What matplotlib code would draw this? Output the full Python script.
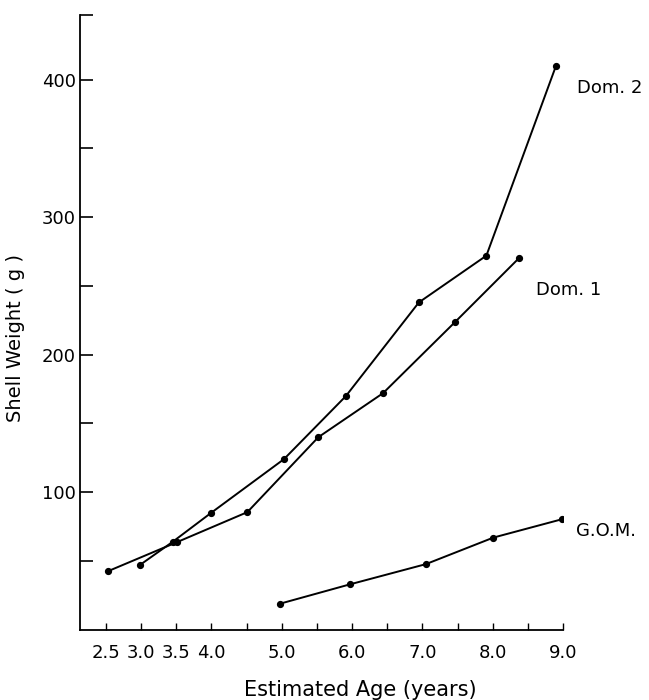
import matplotlib
matplotlib.use("Agg")
import matplotlib.pyplot as plt
from matplotlib.ticker import FixedLocator, FixedFormatter

# --- data ----------------------------------------------------------------
dom1_age = [2.53, 3.51, 4.51, 5.52, 6.44, 7.46, 8.37]
dom1_wt  = [42.6, 63.7, 85.5, 140, 172, 223.5, 270]
dom2_age = [2.98, 3.45, 3.99, 5.03, 5.91, 6.95, 7.91, 8.90]
dom2_wt  = [47, 64, 84.8, 124, 169.8, 238, 272, 410]
gom_age  = [4.98, 5.97, 7.05, 8.01, 8.99]
gom_wt   = [19, 33, 47.7, 67, 80.4]

x_ticks  = [2.5, 3.0, 3.5, 4.0, 4.5, 5.0, 5.5, 6.0, 6.5, 7.0, 7.5, 8.0, 8.5, 9.0]
x_labels = ["2.5", "3.0", "3.5", "4.0", "", "5.0", "", "6.0", "", "7.0", "", "8.0", "", "9.0"]
y_ticks  = [100, 200, 300, 400]
y_minor  = [50, 150, 250, 350, 447]

plt.rcParams["font.family"] = ["DejaVu Sans"]

fig = plt.figure(figsize=(6.49, 7.0), dpi=100)
ax = fig.add_axes([0.1233, 0.1004, 0.7442, 0.8782])

kw = dict(color="black", lw=1.4, marker="o", ms=4.2)
ax.plot(dom1_age, dom1_wt, **kw)
ax.plot(dom2_age, dom2_wt, **kw)
ax.plot(gom_age, gom_wt, **kw)

ax.text(9.20, 394, "Dom. 2", fontsize=13, va="center", clip_on=False)
ax.text(8.62, 247, "Dom. 1", fontsize=13, va="center", clip_on=False)
ax.text(9.19, 72, "G.O.M.", fontsize=13, va="center", clip_on=False)

ax.set_xlim(2.13, 9.0)
ax.set_ylim(0, 447)
ax.xaxis.set_major_locator(FixedLocator(x_ticks))
ax.xaxis.set_major_formatter(FixedFormatter(x_labels))
ax.set_yticks(y_ticks)
ax.yaxis.set_minor_locator(FixedLocator(y_minor))

ax.tick_params(axis="x", direction="in", length=5, width=1, pad=10, labelsize=13)
ax.tick_params(axis="y", which="both", direction="in", length=9, width=1.2,
               pad=3, labelsize=13)
for s in ["top", "right"]:
    ax.spines[s].set_visible(False)
for s in ["left", "bottom"]:
    ax.spines[s].set_linewidth(1.3)

ax.set_xlabel("Estimated Age (years)", fontsize=15)
ax.xaxis.set_label_coords(0.58, -0.081)
ax.set_ylabel("Shell Weight ( g )", fontsize=14)
ax.yaxis.set_label_coords(-0.114, 0.475)

fig.savefig("out.png", dpi=100)
